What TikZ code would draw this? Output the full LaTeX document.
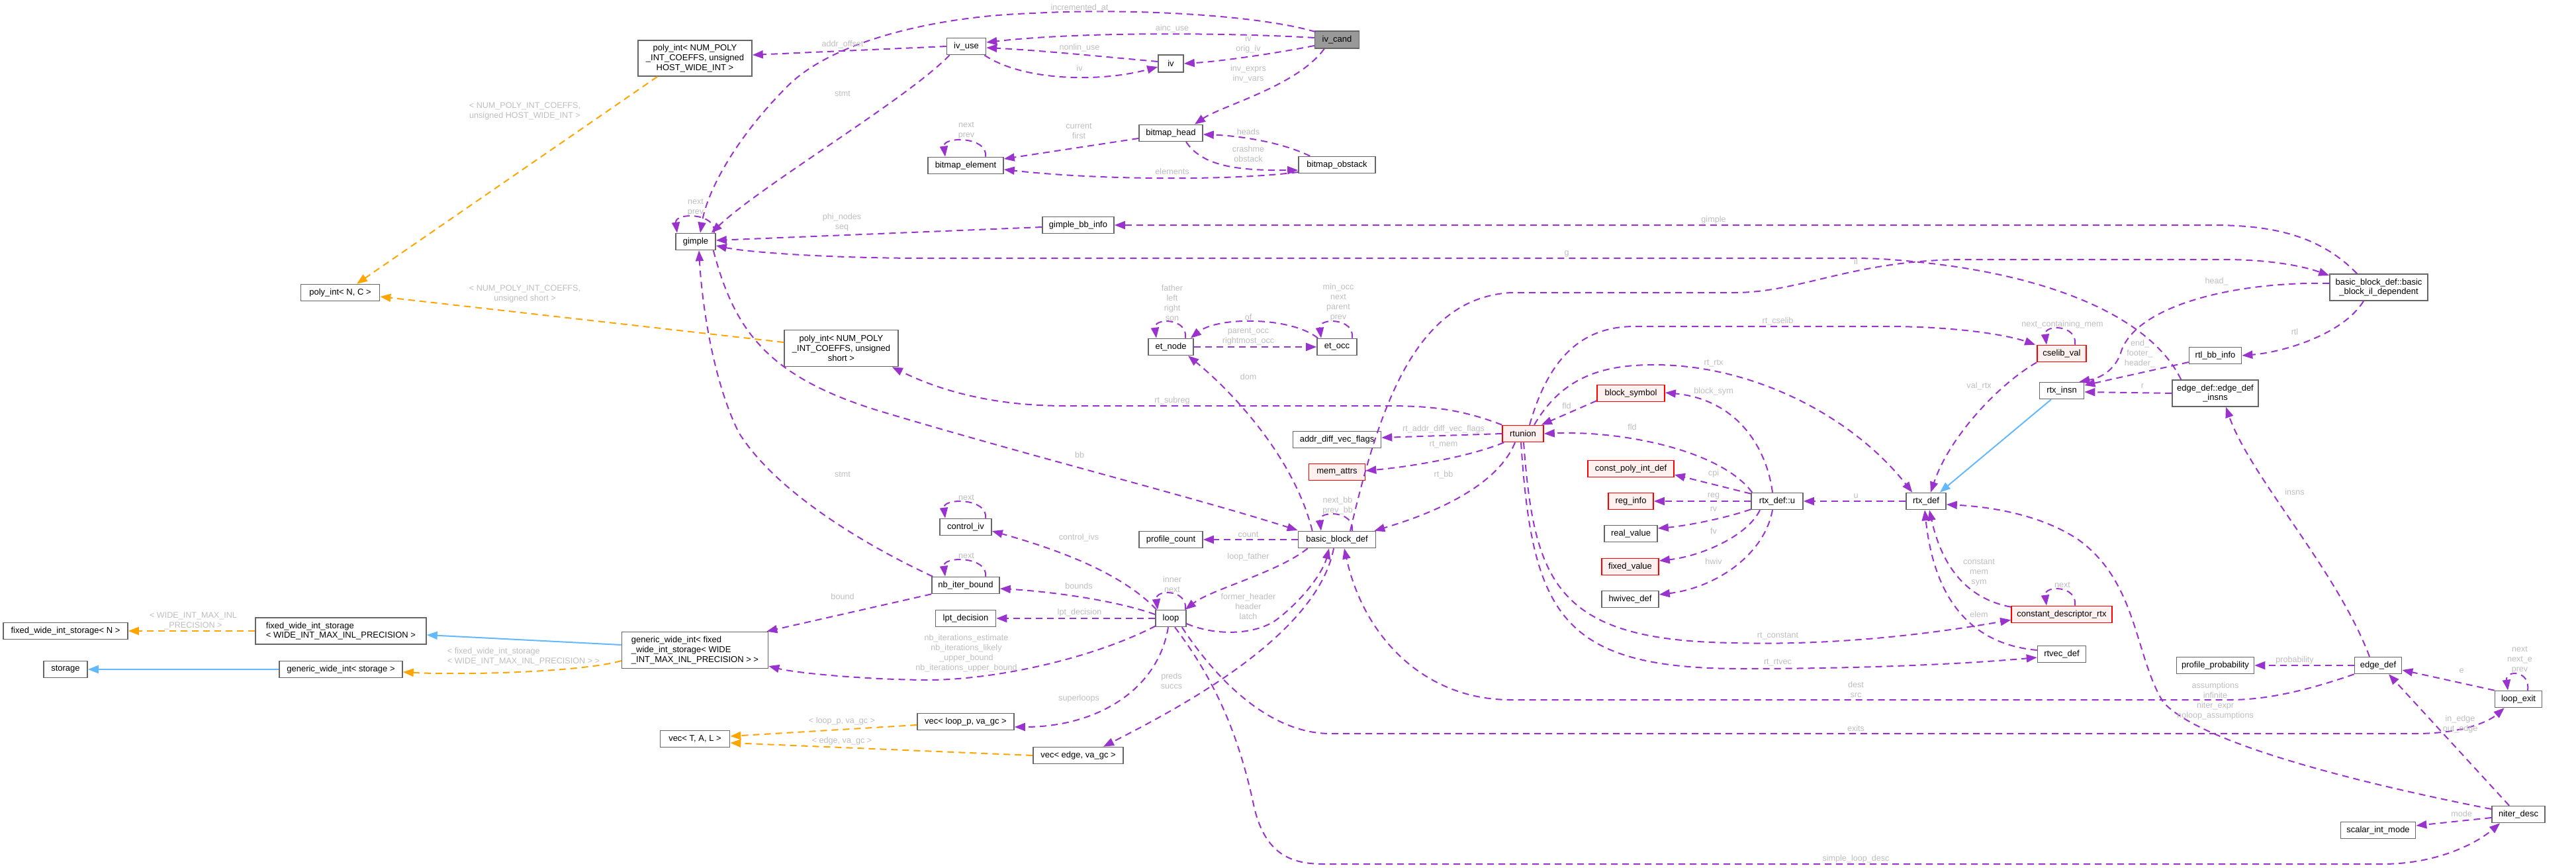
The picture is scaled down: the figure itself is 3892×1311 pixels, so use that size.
\documentclass[tikz,border=0pt]{standalone}
\usepackage{fontspec}
\setmainfont{Liberation Sans}
\usetikzlibrary{arrows.meta,calc}
\definecolor{ngray}{HTML}{666666}
\definecolor{redfill}{HTML}{FFF0F0}
\definecolor{focusfill}{HTML}{999999}
\definecolor{epurple}{HTML}{9A32CD}
\definecolor{eblue}{HTML}{63B8FF}
\definecolor{eorange}{HTML}{FFA500}
\definecolor{lgray}{HTML}{BEBEBE}
\newcommand\NodeFont{\fontsize{13}{14.7}\selectfont}
\newcommand\LabFont{\fontsize{12.6}{15}\selectfont}
\newcommand\selfloop[3]{\draw[rel] ($(#1.north)+(#2,0)$) .. controls +(4,-31) and +(-4,-31) .. ($(#1.north)+(-#3,0)$);}
\begin{document}
\begin{tikzpicture}[x=1pt,y=-1pt,
  cls/.style={draw=ngray,fill=white,line width=1.6pt,rectangle,inner sep=1pt,minimum height=25pt,font=\NodeFont,align=center},
  redc/.style={cls,draw=red,fill=redfill},
  foc/.style={cls,fill=focusfill},
  rel/.style={draw=epurple,line width=2pt,dash pattern=on 10pt off 7pt,-{Triangle[length=16pt,width=12pt]}},
  inh/.style={draw=eblue,line width=2pt,-{Triangle[length=16pt,width=12pt]}},
  tmpl/.style={draw=eorange,line width=2pt,dash pattern=on 10pt off 7pt,-{Triangle[length=16pt,width=12pt]}},
  lbl/.style={text=lgray,font=\LabFont,align=center,inner sep=0pt}]
\useasboundingbox[fill=white] (0,0) rectangle (3892,1311);
% ---------------- nodes
\node[cls,minimum width=172pt,minimum height=54pt] (polyHWI) at (1050,88) {poly\_int< NUM\_POLY\\\_INT\_COEFFS, unsigned\\HOST\_WIDE\_INT >};
\node[cls,minimum width=59pt] (iv_use) at (1460,70) {iv\_use};
\node[cls,minimum width=38pt,minimum height=26pt] (iv) at (1769,96) {iv};
\node[foc,minimum width=67pt,minimum height=26pt] (iv_cand) at (2020,60) {iv\_cand};
\node[cls,minimum width=96pt] (bitmap_head) at (1769,201) {bitmap\_head};
\node[cls,minimum width=114pt] (bitmap_element) at (1459,250) {bitmap\_element};
\node[cls,minimum width=116pt] (bitmap_obstack) at (2020,249) {bitmap\_obstack};
\node[cls,minimum width=60pt] (gimple) at (1051,365) {gimple};
\node[cls,minimum width=108pt] (gimple_bb_info) at (1629,340) {gimple\_bb\_info};
\node[cls,minimum width=148pt,minimum height=40pt] (il_dep) at (3594,434) {basic\_block\_def::basic\\\_block\_il\_dependent};
\node[cls,minimum width=119pt] (polyNC) at (514,442) {poly\_int< N, C >};
\node[cls,minimum width=172pt,minimum height=55pt] (polyShort) at (1271,526) {poly\_int< NUM\_POLY\\\_INT\_COEFFS, unsigned\\short >};
\node[cls,minimum width=68pt] (et_node) at (1769,524) {et\_node};
\node[cls,minimum width=60pt] (et_occ) at (2020,524) {et\_occ};
\node[cls,minimum width=133pt] (adv) at (2020,664) {addr\_diff\_vec\_flags};
\node[redc,minimum width=85pt] (mem_attrs) at (2020,713) {mem\_attrs};
\node[redc,minimum width=62pt] (rtunion) at (2301,655) {rtunion};
\node[redc,minimum width=102pt] (block_symbol) at (2464,594) {block\_symbol};
\node[redc,minimum width=130pt] (cpid) at (2464,708) {const\_poly\_int\_def};
\node[redc,minimum width=68pt] (reg_info) at (2464,757) {reg\_info};
\node[cls,minimum width=80pt] (real_value) at (2464,806) {real\_value};
\node[redc,minimum width=86pt] (fixed_value) at (2463,856) {fixed\_value};
\node[cls,minimum width=86pt] (hwivec_def) at (2463,905) {hwivec\_def};
\node[cls,minimum width=78pt] (rtxu) at (2685,757) {rtx\_def::u};
\node[cls,minimum width=60pt] (rtx_def) at (2910,757) {rtx\_def};
\node[redc,minimum width=74pt] (cselib_val) at (3115,534) {cselib\_val};
\node[cls,minimum width=67pt] (rtx_insn) at (3115,590) {rtx\_insn};
\node[cls,minimum width=79pt] (rtl_bb_info) at (3347,537) {rtl\_bb\_info};
\node[cls,minimum width=130pt,minimum height=40pt] (edi) at (3347,594) {edge\_def::edge\_def\\\_insns};
\node[cls,minimum width=117pt] (bbd) at (2020,815) {basic\_block\_def};
\node[cls,minimum width=96pt] (profile_count) at (1769,815) {profile\_count};
\node[cls,minimum width=78pt] (control_iv) at (1459,796) {control\_iv};
\node[cls,minimum width=102pt] (nb_iter_bound) at (1459,884) {nb\_iter\_bound};
\node[cls,minimum width=91pt] (lpt_decision) at (1459,934) {lpt\_decision};
\node[cls,minimum width=46pt] (loop) at (1769,934) {loop};
\node[cls,minimum width=221pt,minimum height=55pt,align=left] (gwi_fixed) at (1050,982) {generic\_wide\_int< fixed\\\_wide\_int\_storage< WIDE\\\_INT\_MAX\_INL\_PRECISION > >};
\node[cls,minimum width=258pt,minimum height=40pt,align=left] (fwis_wide) at (515,953) {fixed\_wide\_int\_storage\\< WIDE\_INT\_MAX\_INL\_PRECISION >};
\node[cls,minimum width=188pt] (fwis_N) at (99,953) {fixed\_wide\_int\_storage< N >};
\node[cls,minimum width=186pt] (gwi_storage) at (515,1011) {generic\_wide\_int< storage >};
\node[cls,minimum width=66pt] (storage) at (99,1011) {storage};
\node[cls,minimum width=146pt] (vec_loop) at (1459,1090) {vec< loop\_p, va\_gc >};
\node[cls,minimum width=136pt] (vec_edge) at (1629,1141) {vec< edge, va\_gc >};
\node[cls,minimum width=105pt] (vec_TAL) at (1050,1116) {vec< T, A, L >};
\node[cls,minimum width=117pt] (profile_probability) at (3347,1005) {profile\_probability};
\node[cls,minimum width=71pt] (edge_def) at (3593,1005) {edge\_def};
\node[cls,minimum width=71pt] (loop_exit) at (3805,1056) {loop\_exit};
\node[cls,minimum width=80pt] (niter_desc) at (3805,1230) {niter\_desc};
\node[cls,minimum width=113pt] (scalar_int_mode) at (3593,1254) {scalar\_int\_mode};
\node[redc,minimum width=152pt] (cpdr) at (3115,928) {constant\_descriptor\_rtx};
\node[cls,minimum width=73pt] (rtvec_def) at (3115,988) {rtvec\_def};
% ---------------- edges
\draw[rel] ($(iv_cand.north west)+(2,2)$) .. controls (1900,22) and (1700,12) .. (1562,20) .. controls (1420,24) and (1260,60) .. (1190,130) .. controls (1110,210) and (1068,290) .. ($(gimple.north)+(7,0)$);
\draw[rel] ($(iv_cand.west)+(0,-3)$) .. controls (1870,50) and (1640,47) .. ($(iv_use.east)+(0,-6)$);
\draw[rel] ($(iv_cand.west)+(0,9)$) .. controls (1920,82) and (1840,93) .. (iv.east);
\draw[rel] ($(iv_cand.south west)+(15,0)$) .. controls (1960,130) and (1845,160) .. ($(bitmap_head.north)+(36,0)$);
\draw[rel] (iv_use.west) -- ($(polyHWI.east)+(0,-5)$);
\draw[rel] ($(iv_use.south west)+(5,0)$) .. controls (1370,150) and (1150,280) .. ($(gimple.north east)+(-7,0)$);
\draw[rel] ($(iv.west)+(0,-3)$) .. controls (1660,85) and (1570,76) .. ($(iv_use.east)+(0,2)$);
\draw[rel] ($(iv_use.south east)+(-3,0)$) .. controls (1545,122) and (1660,125) .. ($(iv.west)+(0,5)$);
\draw[rel] ($(bitmap_head.west)+(0,8)$) -- ($(bitmap_element.east)+(0,-10)$);
\selfloop{bitmap_element}{30}{31}
\draw[rel] ($(bitmap_obstack.north west)+(18,0)$) .. controls (1935,214) and (1870,205) .. ($(bitmap_head.east)+(0,2)$);
\draw[rel] ($(bitmap_head.south)+(23,0)$) .. controls (1815,248) and (1860,258) .. ($(bitmap_obstack.west)+(0,8)$);
\draw[rel] ($(bitmap_obstack.west)+(0,11)$) .. controls (1850,274) and (1650,271) .. ($(bitmap_element.east)+(0,6)$);
\selfloop{gimple}{28}{28}
\draw[rel] ($(gimple_bb_info.west)+(0,3)$) -- ($(gimple.east)+(0,-2)$);
\draw[rel] ($(il_dep.north)+(-33,0)$) .. controls (3500,350) and (3420,340) .. (3340,340) -- (gimple_bb_info.east);
\draw[rel] ($(edi.north west)+(14,0)$) .. controls (3250,480) and (3100,415) .. (2890,395) .. controls (2850,391) and (2830,390) .. (2790,390) -- (1400,390) .. controls (1250,390) and (1130,381) .. ($(gimple.east)+(0,6)$);
\draw[rel] ($(bbd.north)+(20,0)$) .. controls (2085,610) and (2140,450) .. (2283,442) -- (2620,442) .. controls (2720,442) and (2800,393) .. (2965,392) -- (3360,392) .. controls (3430,392) and (3480,402) .. ($(il_dep.north west)+(0,3)$);
\draw[rel] ($(il_dep.south)+(-23,0)$) .. controls (3540,505) and (3450,532) .. (rtl_bb_info.east);
\draw[rel] ($(il_dep.west)+(0,-6)$) .. controls (3380,425) and (3230,460) .. (3205,530) .. controls (3198,555) and (3178,570) .. ($(rtx_insn.north east)+(-8,0)$);
\draw[rel] ($(rtl_bb_info.west)+(0,10)$) -- ($(rtx_insn.east)+(0,-8)$);
\draw[rel] (edi.west) -- ($(rtx_insn.east)+(0,2)$);
\draw[inh] ($(rtx_insn.south)+(-16,0)$) -- ($(rtx_def.north east)+(-10,0)$);
\draw[rel] (cselib_val.south west) .. controls (3020,580) and (2945,660) .. ($(rtx_def.north)+(7,0)$);
\selfloop{cselib_val}{20}{23}
\draw[rel] ($(rtunion.north)+(10,0)$) .. controls (2340,540) and (2390,493) .. (2470,493) -- (2850,493) .. controls (2950,493) and (3030,505) .. ($(cselib_val.north west)+(-2,0)$);
\draw[rel] ($(rtunion.north)+(17,0)$) .. controls (2360,570) and (2420,551) .. (2499,551) .. controls (2650,551) and (2800,630) .. ($(rtx_def.north west)+(10,0)$);
\draw[rel] ($(block_symbol.south west)+(0,-2)$) -- ($(rtunion.north east)+(-4,0)$);
\draw[rel] ($(rtxu.north west)+(2,0)$) .. controls (2600,680) and (2450,650) .. (rtunion.east);
\draw[rel] ($(rtxu.north)+(-7,0)$) .. controls (2668,670) and (2620,603) .. ($(block_symbol.east)+(0,-1)$);
\draw[rel] (rtunion.west) -- ($(adv.east)+(0,-3)$);
\draw[rel] ($(rtunion.south west)+(3,0)$) .. controls (2220,690) and (2130,705) .. ($(mem_attrs.east)+(0,-2)$);
\draw[rel] ($(rtunion.south)+(-12,0)$) .. controls (2260,740) and (2150,780) .. ($(bbd.north east)+(-3,0)$);
\draw[rel] (rtunion.north west) .. controls (2200,615) and (2150,613) .. (2090,613) -- (1610,613) .. controls (1500,613) and (1420,590) .. ($(polyShort.south east)+(-10,0)$);
\draw[tmpl] ($(polyHWI.south west)+(30,0)$) -- ($(polyNC.north)+(25,0)$);
\draw[tmpl] ($(polyShort.west)+(0,-9)$) -- ($(polyNC.east)+(0,6)$);
\selfloop{et_node}{22}{22}
\selfloop{et_occ}{23}{24}
\draw[rel] ($(et_occ.north west)+(2,0)$) .. controls (1950,478) and (1840,478) .. ($(et_node.north east)+(-5,0)$);
\draw[rel] (et_node.east) -- (et_occ.west);
\draw[rel] ($(bbd.north west)+(22,0)$) .. controls (1955,690) and (1860,590) .. ($(et_node.south)+(26,0)$);
\selfloop{bbd}{23}{24}
\draw[rel] (bbd.west) -- (profile_count.east);
\draw[rel] ($(bbd.south west)+(15,0)$) .. controls (1930,865) and (1830,890) .. ($(loop.north east)+(-2,0)$);
\draw[rel] ($(loop.east)+(0,8)$) .. controls (1840,962) and (1900,958) .. (1930,935) .. controls (1975,900) and (2000,860) .. ($(bbd.south)+(-12,0)$);
\selfloop{loop}{22}{20}
\draw[rel] ($(gimple.south east)+(-4,0)$) .. controls (1110,500) and (1160,570) .. (1333,622) .. controls (1560,690) and (1800,750) .. ($(bbd.west)+(0,-14)$);
\draw[rel] ($(nb_iter_bound.north west)+(2,0)$) .. controls (1300,820) and (1170,740) .. (1116,653) .. controls (1075,570) and (1060,450) .. ($(gimple.south)+(5,0)$);
\selfloop{nb_iter_bound}{30}{31}
\selfloop{control_iv}{30}{31}
\draw[rel] ($(loop.north west)+(2,0)$) .. controls (1690,860) and (1580,825) .. ($(control_iv.east)+(0,6)$);
\draw[rel] ($(loop.west)+(0,-6)$) .. controls (1680,905) and (1580,893) .. ($(nb_iter_bound.east)+(0,5)$);
\draw[rel] (loop.west) -- (lpt_decision.east);
\draw[rel] ($(loop.south west)+(1,-2)$) .. controls (1650,995) and (1500,1028) .. (1396,1027) .. controls (1300,1026) and (1200,1016) .. ($(gwi_fixed.east)+(0,24)$);
\draw[rel] (nb_iter_bound.south west) -- ($(gwi_fixed.north east)+(-3,0)$);
\draw[inh] ($(gwi_fixed.west)+(0,-8)$) -- ($(fwis_wide.east)+(0,6)$);
\draw[tmpl] ($(gwi_fixed.west)+(0,16)$) .. controls (880,1015) and (700,1020) .. ($(gwi_storage.east)+(0,4)$);
\draw[tmpl] (fwis_wide.west) -- (fwis_N.east);
\draw[inh] (gwi_storage.west) -- (storage.east);
\draw[rel] ($(loop.south)+(-4,0)$) .. controls (1750,1040) and (1660,1098) .. ($(vec_loop.east)+(0,8)$);
\draw[rel] ($(bbd.south)+(-5,0)$) .. controls (1990,960) and (1780,1070) .. ($(vec_edge.north)+(38,0)$);
\draw[tmpl] ($(vec_loop.west)+(0,5)$) -- ($(vec_TAL.east)+(0,-4)$);
\draw[tmpl] (vec_edge.west) -- ($(vec_TAL.east)+(0,6)$);
\draw[rel] (edge_def.south west) .. controls (3480,1045) and (3420,1057) .. (3370,1057) -- (2283,1057) .. controls (2150,1057) and (2060,960) .. ($(bbd.south)+(11,0)$);
\draw[rel] ($(loop.south east)+(-7,0)$) .. controls (1840,1030) and (1920,1108) .. (2010,1108) -- (3650,1108) .. controls (3720,1108) and (3760,1090) .. ($(loop_exit.south west)+(15,0)$);
\draw[rel] ($(loop.south)+(6,0)$) .. controls (1830,1020) and (1870,1100) .. (1895,1220) .. controls (1912,1290) and (1950,1305) .. (2000,1305) -- (3600,1305) .. controls (3680,1305) and (3740,1275) .. ($(niter_desc.south west)+(13,0)$);
\draw[rel] (loop_exit.north west) -- ($(edge_def.east)+(0,7)$);
\selfloop{loop_exit}{14}{16}
\draw[rel] ($(niter_desc.north)+(-14,0)$) -- ($(edge_def.south)+(16,0)$);
\draw[rel] (edge_def.west) -- (profile_probability.east);
\draw[rel] ($(edge_def.north)+(-13,0)$) .. controls (3530,860) and (3400,720) .. ($(edi.south)+(16,0)$);
\draw[rel] ($(niter_desc.west)+(0,5)$) -- ($(scalar_int_mode.east)+(0,-7)$);
\draw[rel] ($(niter_desc.west)+(0,-8)$) .. controls (3550,1180) and (3320,1120) .. (3268,1060) .. controls (3225,990) and (3230,880) .. (3140,815) .. controls (3080,775) and (3000,765) .. ($(rtx_def.east)+(0,5)$);
\draw[rel] (rtx_def.west) -- (rtxu.east);
\draw[rel] ($(rtxu.north west)+(0,2)$) -- ($(cpid.east)+(0,9)$);
\draw[rel] (rtxu.west) -- (reg_info.east);
\draw[rel] ($(rtxu.south west)+(0,-1)$) .. controls (2600,785) and (2540,795) .. ($(real_value.east)+(0,-8)$);
\draw[rel] ($(rtxu.south)+(-26,0)$) .. controls (2640,810) and (2570,840) .. ($(fixed_value.east)+(0,-9)$);
\draw[rel] ($(rtxu.south)+(-7,0)$) .. controls (2665,840) and (2590,888) .. ($(hwivec_def.east)+(0,-7)$);
\draw[rel] ($(rtunion.south)+(1,0)$) .. controls (2318,880) and (2350,968) .. (2621,971) .. controls (2800,976) and (2960,950) .. ($(cpdr.south west)+(0,-5)$);
\draw[rel] ($(rtunion.south)+(-3,0)$) .. controls (2315,930) and (2360,1010) .. (2633,1010) .. controls (2850,1010) and (3000,1000) .. ($(rtvec_def.west)+(0,5)$);
\draw[rel] ($(cpdr.north west)+(0,2)$) .. controls (2975,905) and (2935,860) .. ($(rtx_def.south)+(5,0)$);
\selfloop{cpdr}{20}{23}
\draw[rel] ($(rtvec_def.west)+(0,-6)$) .. controls (3000,975) and (2925,930) .. ($(rtx_def.south)+(-2,0)$);
% ---------------- labels
\node[lbl] (L1) at (1631,12) {incremented\_at};
\node[lbl] (L2) at (1771,43) {ainc\_use};
\node[lbl] (L3) at (1273,67) {addr\_offset};
\node[lbl] (L4) at (1631,72) {nonlin\_use};
\node[lbl] (L5) at (1886,67) {iv\\orig\_iv};
\node[lbl] (L6) at (1631,103) {iv};
\node[lbl] (L7) at (1886,112) {inv\_exprs\\inv\_vars};
\node[lbl] (L8) at (1273,141) {stmt};
\node[lbl] (L9) at (1460,197) {next\\prev};
\node[lbl] (L10) at (1630,198) {current\\first};
\node[lbl] (L11) at (1886,199) {heads};
\node[lbl] (L12) at (1886,232) {crashme\\obstack};
\node[lbl] (L13) at (1771,259) {elements};
\node[lbl] (L14) at (1051,313) {next\\prev};
\node[lbl] (L15) at (1272,336) {phi\_nodes\\seq};
\node[lbl] (L16) at (2589,332) {gimple};
\node[lbl] (L17) at (2367,383) {g};
\node[lbl] (L18) at (2804,395) {il};
\node[lbl] (L19) at (793,168) {< NUM\_POLY\_INT\_COEFFS,\\unsigned HOST\_WIDE\_INT >};
\node[lbl] (L20) at (793,444) {< NUM\_POLY\_INT\_COEFFS,\\unsigned short >};
\node[lbl] (L21) at (3349,425) {head\_};
\node[lbl] (L22) at (3467,501) {rtl};
\node[lbl] (L23) at (3116,490) {next\_containing\_mem};
\node[lbl] (L24) at (3233,534) {end\_\\footer\_\\header\_};
\node[lbl] (L25) at (3237,583) {r};
\node[lbl] (L26) at (2990,583) {val\_rtx};
\node[lbl] (L27) at (3467,743) {insns};
\node[lbl] (L28) at (2686,485) {rt\_cselib};
\node[lbl] (L29) at (2589,549) {rt\_rtx};
\node[lbl] (L30) at (2589,591) {block\_sym};
\node[lbl] (L31) at (2367,613) {fld};
\node[lbl] (L32) at (2466,645) {fld};
\node[lbl] (L33) at (2181,648) {rt\_addr\_diff\_vec\_flags};
\node[lbl] (L34) at (2181,672) {rt\_mem};
\node[lbl] (L35) at (2181,717) {rt\_bb};
\node[lbl] (L36) at (2021,764) {next\_bb\\prev\_bb};
\node[lbl] (L37) at (1771,605) {rt\_subreg};
\node[lbl] (L38) at (1771,457) {father\\left\\right\\son};
\node[lbl] (L39) at (1886,479) {of};
\node[lbl] (L40) at (1886,508) {parent\_occ\\rightmost\_occ};
\node[lbl] (L41) at (2022,457) {min\_occ\\next\\parent\\prev};
\node[lbl] (L42) at (1886,569) {dom};
\node[lbl] (L43) at (1631,687) {bb};
\node[lbl] (L44) at (1273,716) {stmt};
\node[lbl] (L45) at (1886,807) {count};
\node[lbl] (L46) at (1886,841) {loop\_father};
\node[lbl] (L47) at (1630,812) {control\_ivs};
\node[lbl] (L48) at (1460,751) {next};
\node[lbl] (L49) at (1460,839) {next};
\node[lbl] (L50) at (1630,885) {bounds};
\node[lbl] (L51) at (1771,882) {inner\\next};
\node[lbl] (L52) at (1886,916) {former\_header\\header\\latch};
\node[lbl] (L53) at (1631,925) {lpt\_decision};
\node[lbl] (L54) at (1273,901) {bound};
\node[lbl] (L55) at (1460,987) {nb\_iterations\_estimate\\nb\_iterations\_likely\\\_upper\_bound\\nb\_iterations\_upper\_bound};
\node[lbl] (L56) at (1770,1028) {preds\\succs};
\node[lbl] (L57) at (1630,1055) {superloops};
\node[lbl] (L58) at (292,938) {< WIDE\_INT\_MAX\_INL\\\_PRECISION >};
\node[lbl,align=left] (L59) at (791,992) {< fixed\_wide\_int\_storage\\< WIDE\_INT\_MAX\_INL\_PRECISION > >};
\node[lbl] (L60) at (1272,1089) {< loop\_p, va\_gc >};
\node[lbl] (L61) at (1272,1119) {< edge, va\_gc >};
\node[lbl] (L62) at (2589,715) {cpi};
\node[lbl] (L63) at (2589,749) {reg};
\node[lbl] (L64) at (2589,769) {rv};
\node[lbl] (L65) at (2589,802) {fv};
\node[lbl] (L66) at (2589,848) {hwiv};
\node[lbl] (L67) at (2804,749) {u};
\node[lbl] (L68) at (2990,865) {constant\\mem\\sym};
\node[lbl] (L69) at (3116,883) {next};
\node[lbl] (L70) at (2990,928) {elem};
\node[lbl] (L71) at (2686,961) {rt\_constant};
\node[lbl] (L72) at (2686,1001) {rt\_rtvec};
\node[lbl] (L73) at (3467,997) {probability};
\node[lbl] (L74) at (3719,1013) {e};
\node[lbl] (L75) at (3807,997) {next\\next\_e\\prev};
\node[lbl] (L76) at (3347,1059) {assumptions\\infinite\\niter\_expr\\noloop\_assumptions};
\node[lbl] (L77) at (2804,1041) {dest\\src};
\node[lbl] (L78) at (3717,1094) {in\_edge\\out\_edge};
\node[lbl] (L79) at (2804,1100) {exits};
\node[lbl] (L80) at (3719,1229) {mode};
\node[lbl] (L81) at (2804,1297) {simple\_loop\_desc};
\end{tikzpicture}
\end{document}
